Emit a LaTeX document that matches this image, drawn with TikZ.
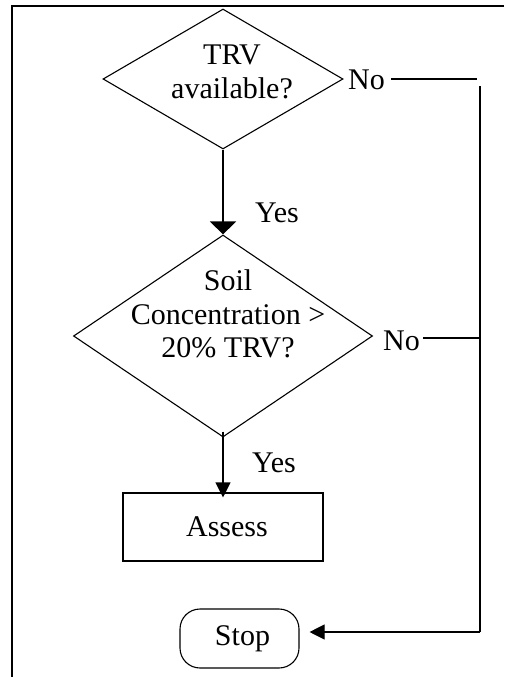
\documentclass[tikz,border=0pt]{standalone}
\usepackage{fontspec}
\setmainfont{Liberation Serif}
\usetikzlibrary{shapes.geometric,arrows.meta}
\begin{document}
\begin{tikzpicture}[x=1pt,y=-1pt,
  every node/.style={font=\fontsize{30}{33.5}\selectfont, inner sep=0pt},
  line/.style={line width=1.1pt, black},
  decision/.style={diamond, draw, line width=1.1pt, inner sep=0pt},
  label/.style={align=center},
  box/.style={rectangle, draw, line width=1.1pt, minimum width=200pt, minimum height=68pt},
  terminal/.style={rectangle, rounded corners=20pt, draw, line width=1.1pt, minimum width=119pt, minimum height=59pt},
  wide/.style={-{Triangle[length=13pt,width=26pt]}},
  narrow/.style={-{Triangle[length=15pt,width=15pt]}}]
\useasboundingbox (0,0) rectangle (504,677);
% page frame, top and left edges only
\draw[line width=1.3pt] (504,6) -- (12,6) -- (12,677);

% first decision
\node[decision, minimum width=240pt, minimum height=140pt] (d1) at (223,79) {};
\node[label] (t1) at (232,72) {TRV\\available?};
\node[anchor=base west] (no1) at (348,89) {No};

% second decision
\node[decision, minimum width=299pt, minimum height=202pt] (d2) at (223,336) {};
\node[label] (t2) at (228,314) {Soil\\Concentration >\\20\% TRV?};
\node[anchor=base west] (no2) at (383,350) {No};

% yes labels
\node[anchor=base west] (yes1) at (255,222) {Yes};
\node[anchor=base west] (yes2) at (252,472) {Yes};

% action and terminal
\node[box] (assess) at (223,527) {\hspace{8pt}Assess};
\node[terminal] (stop) at (239.5,638.5) {\hspace{6pt}Stop};

% return path on the right
\coordinate (r1) at (480,79);
\coordinate (r2) at (480,338);
\coordinate (r3) at (480,632);

\draw[line] ([xshift=6pt]no1.east |- r1) -- ([xshift=-3pt]r1);
\draw[line] (480,86) -- (r3);
\draw[line] ([xshift=3pt]no2.east |- r2) -- (r2);
\draw[line, narrow] (r3) -- ([xshift=10pt]stop.east |- r3);

% downward arrows
\draw[line, wide] (d1.south) -- (d2.north);
\draw[line, narrow] ([yshift=6pt]d2.south) -- ([yshift=-5pt]assess.north);
\end{tikzpicture}
\end{document}
